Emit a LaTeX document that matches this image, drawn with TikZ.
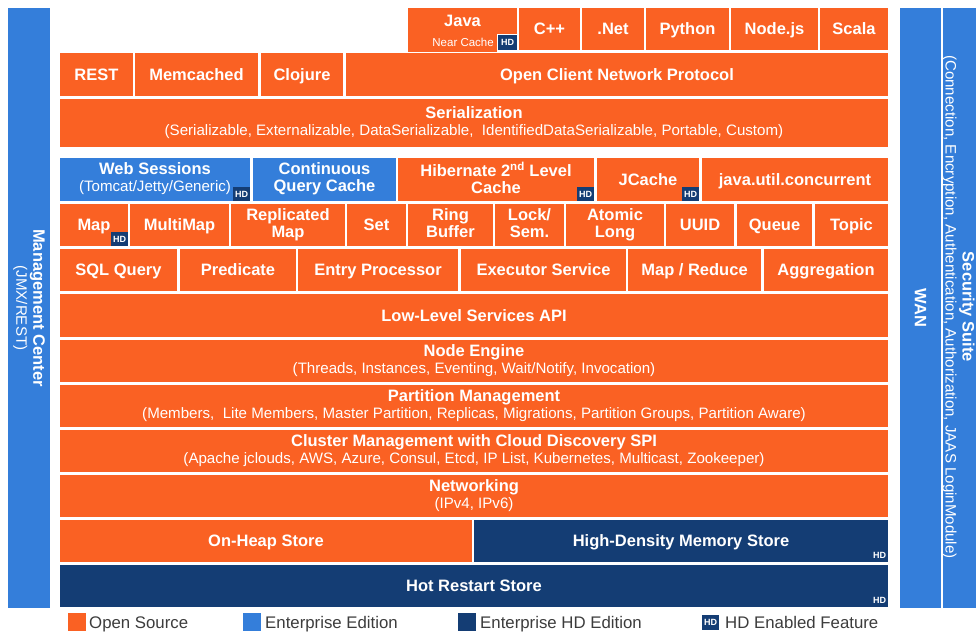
\documentclass[tikz,border=0pt]{standalone}
\usepackage{fontspec}
\setmainfont{Liberation Sans}
\definecolor{hzor}{RGB}{250,97,35}
\definecolor{hzbl}{RGB}{52,126,218}
\definecolor{hznv}{RGB}{20,61,116}
\definecolor{hzgray}{RGB}{60,60,60}
\newcommand\titf{\bfseries\fontsize{16.5}{17}\selectfont}
\newcommand\subf{\mdseries\fontsize{15.1}{17}\selectfont}
\newcommand\tstr{\rule[-4pt]{0pt}{19.8pt}}
\newcommand\bk[7]{\node[blk,fill=#6,minimum width={(#3-#1)*1pt},minimum height={(#4-#2)*1pt}] (#5) at ({(#1+#3)/2},{(#2+#4)/2}) {#7};}
\begin{document}
\begin{tikzpicture}[x=1pt,y=-1pt,
  blk/.style={inner sep=0pt, outer sep=0pt, text=white, font=\titf, align=center, execute at begin node=\tstr, execute at end node=\tstr},
  hd/.style={fill=hznv, text=white, inner sep=0pt, outer sep=0pt, minimum width=17pt, minimum height=14pt, font=\bfseries\fontsize{9}{9}\selectfont},
  vtxt/.style={rotate=-90, align=center, text=white, font=\titf, inner sep=0pt},
  lsq/.style={minimum size=18pt, inner sep=0pt, outer sep=0pt},
  legt/.style={anchor=base west, text=hzgray, font=\fontsize{16.8}{17}\selectfont, inner sep=0pt}]
\useasboundingbox (0,0) rectangle (976,633);
% side columns
\bk{8}{8}{50}{608}{mgmt}{hzbl}{}
\node[vtxt] (mgmtt) at (mgmt.center) {Management Center\\\subf (JMX/REST)};
\bk{900}{8}{941}{608}{wan}{hzbl}{}
\node[vtxt] (want) at (wan.center) {WAN};
\bk{943}{8}{977}{608}{sec}{hzbl}{}
\node[vtxt] (sect) at (958.5,307) {Security Suite\\\subf (Connection, Encryption, Authentication, Authorization, JAAS LoginModule)};
% language row
\bk{408}{8}{517}{34}{java}{hzor}{Java}
\bk{408}{35}{497}{50}{nearc}{hzor}{}
\node[anchor=east, text=white, inner sep=0pt, font=\fontsize{11.5}{12}\selectfont] (nearct) at (494,42.5) {Near Cache};
\node[hd, minimum width=19pt, minimum height=15pt] (javahd) at (507.5,42.5) {HD};
\bk{519}{8}{580}{50}{cpp}{hzor}{C++}
\bk{582}{8}{644}{50}{dotnet}{hzor}{.Net}
\bk{646}{8}{729}{50}{python}{hzor}{Python}
\bk{731}{8}{818}{50}{nodejs}{hzor}{Node.js}
\bk{820}{8}{888}{50}{scala}{hzor}{Scala}
% row 2
\bk{60}{53}{133}{96}{rest}{hzor}{REST}
\bk{135}{53}{258}{96}{memc}{hzor}{Memcached}
\bk{261}{53}{343}{96}{cloj}{hzor}{Clojure}
\bk{346}{53}{888}{96}{ocnp}{hzor}{Open Client Network Protocol}
% serialization
\bk{60}{99}{888}{147}{ser}{hzor}{Serialization\\\subf (Serializable, Externalizable, DataSerializable, \ IdentifiedDataSerializable, Portable, Custom)}
% row 4
\bk{60}{158}{250}{201}{web}{hzbl}{Web Sessions\\\subf (Tomcat/Jetty/Generic)}
\bk{253}{158}{396}{201}{cqc}{hzbl}{Continuous\\Query Cache}
\bk{398}{158}{594}{201}{hib}{hzor}{Hibernate 2\textsuperscript{nd} Level\\Cache}
\bk{597}{158}{699}{201}{jcache}{hzor}{JCache}
\bk{702}{158}{888}{201}{juc}{hzor}{java.util.concurrent}
\node[hd, anchor=south east] (webhd) at (web.south east) {HD};
\node[hd, anchor=south east] (hibhd) at (hib.south east) {HD};
\node[hd, anchor=south east] (jchd) at (jcache.south east) {HD};
% row 5
\bk{60}{204}{128}{246}{map}{hzor}{Map}
\bk{130}{204}{229}{246}{mmap}{hzor}{MultiMap}
\bk{231}{204}{345}{246}{rmap}{hzor}{Replicated\\Map}
\bk{347}{204}{406}{246}{set}{hzor}{Set}
\bk{408}{204}{493}{246}{ring}{hzor}{Ring\\Buffer}
\bk{495}{204}{564}{246}{lock}{hzor}{Lock/\\Sem.}
\bk{566}{204}{664}{246}{atomic}{hzor}{Atomic\\Long}
\bk{666}{204}{734}{246}{uuid}{hzor}{UUID}
\bk{737}{204}{812}{246}{queue}{hzor}{Queue}
\bk{815}{204}{888}{246}{topic}{hzor}{Topic}
\node[hd, anchor=south east] (maphd) at (map.south east) {HD};
% row 6
\bk{60}{249}{177}{291}{sql}{hzor}{SQL Query}
\bk{180}{249}{296}{291}{pred}{hzor}{Predicate}
\bk{298}{249}{458}{291}{entry}{hzor}{Entry Processor}
\bk{461}{249}{626}{291}{exec}{hzor}{Executor Service}
\bk{628}{249}{761}{291}{mapred}{hzor}{Map / Reduce}
\bk{764}{249}{888}{291}{aggr}{hzor}{Aggregation}
% full rows
\bk{60}{294}{888}{337}{llapi}{hzor}{Low-Level Services API}
\bk{60}{340}{888}{382}{nodeeng}{hzor}{Node Engine\\\subf (Threads, Instances, Eventing, Wait/Notify, Invocation)}
\bk{60}{385}{888}{427}{part}{hzor}{Partition Management\\\subf (Members, \ Lite Members, Master Partition, Replicas, Migrations, Partition Groups, Partition Aware)}
\bk{60}{430}{888}{472}{cluster}{hzor}{Cluster Management with Cloud Discovery SPI\\\subf (Apache jclouds, AWS, Azure, Consul, Etcd, IP List, Kubernetes, Multicast, Zookeeper)}
\bk{60}{475}{888}{517}{netw}{hzor}{Networking\\\subf (IPv4, IPv6)}
\bk{60}{520}{472}{562}{onheap}{hzor}{On-Heap Store}
\bk{474}{520}{888}{562}{hdms}{hznv}{High-Density Memory Store}
\bk{60}{565}{888}{607}{hotr}{hznv}{Hot Restart Store}
\node[hd, anchor=south east] (hdmshd) at (hdms.south east) {HD};
\node[hd, anchor=south east] (hotrhd) at (hotr.south east) {HD};
% legend
\node[lsq, fill=hzor] (lg1) at (77,622) {};
\node[legt] (lg1t) at (89,628) {Open Source};
\node[lsq, fill=hzbl] (lg2) at (251.5,622) {};
\node[legt] (lg2t) at (265,628) {Enterprise Edition};
\node[lsq, fill=hznv] (lg3) at (467,622) {};
\node[legt] (lg3t) at (480,628) {Enterprise HD Edition};
\node[hd, minimum width=17pt, minimum height=15pt] (lg4) at (710.5,622) {HD};
\node[legt] (lg4t) at (725,628) {HD Enabled Feature};
\end{tikzpicture}
\end{document}
